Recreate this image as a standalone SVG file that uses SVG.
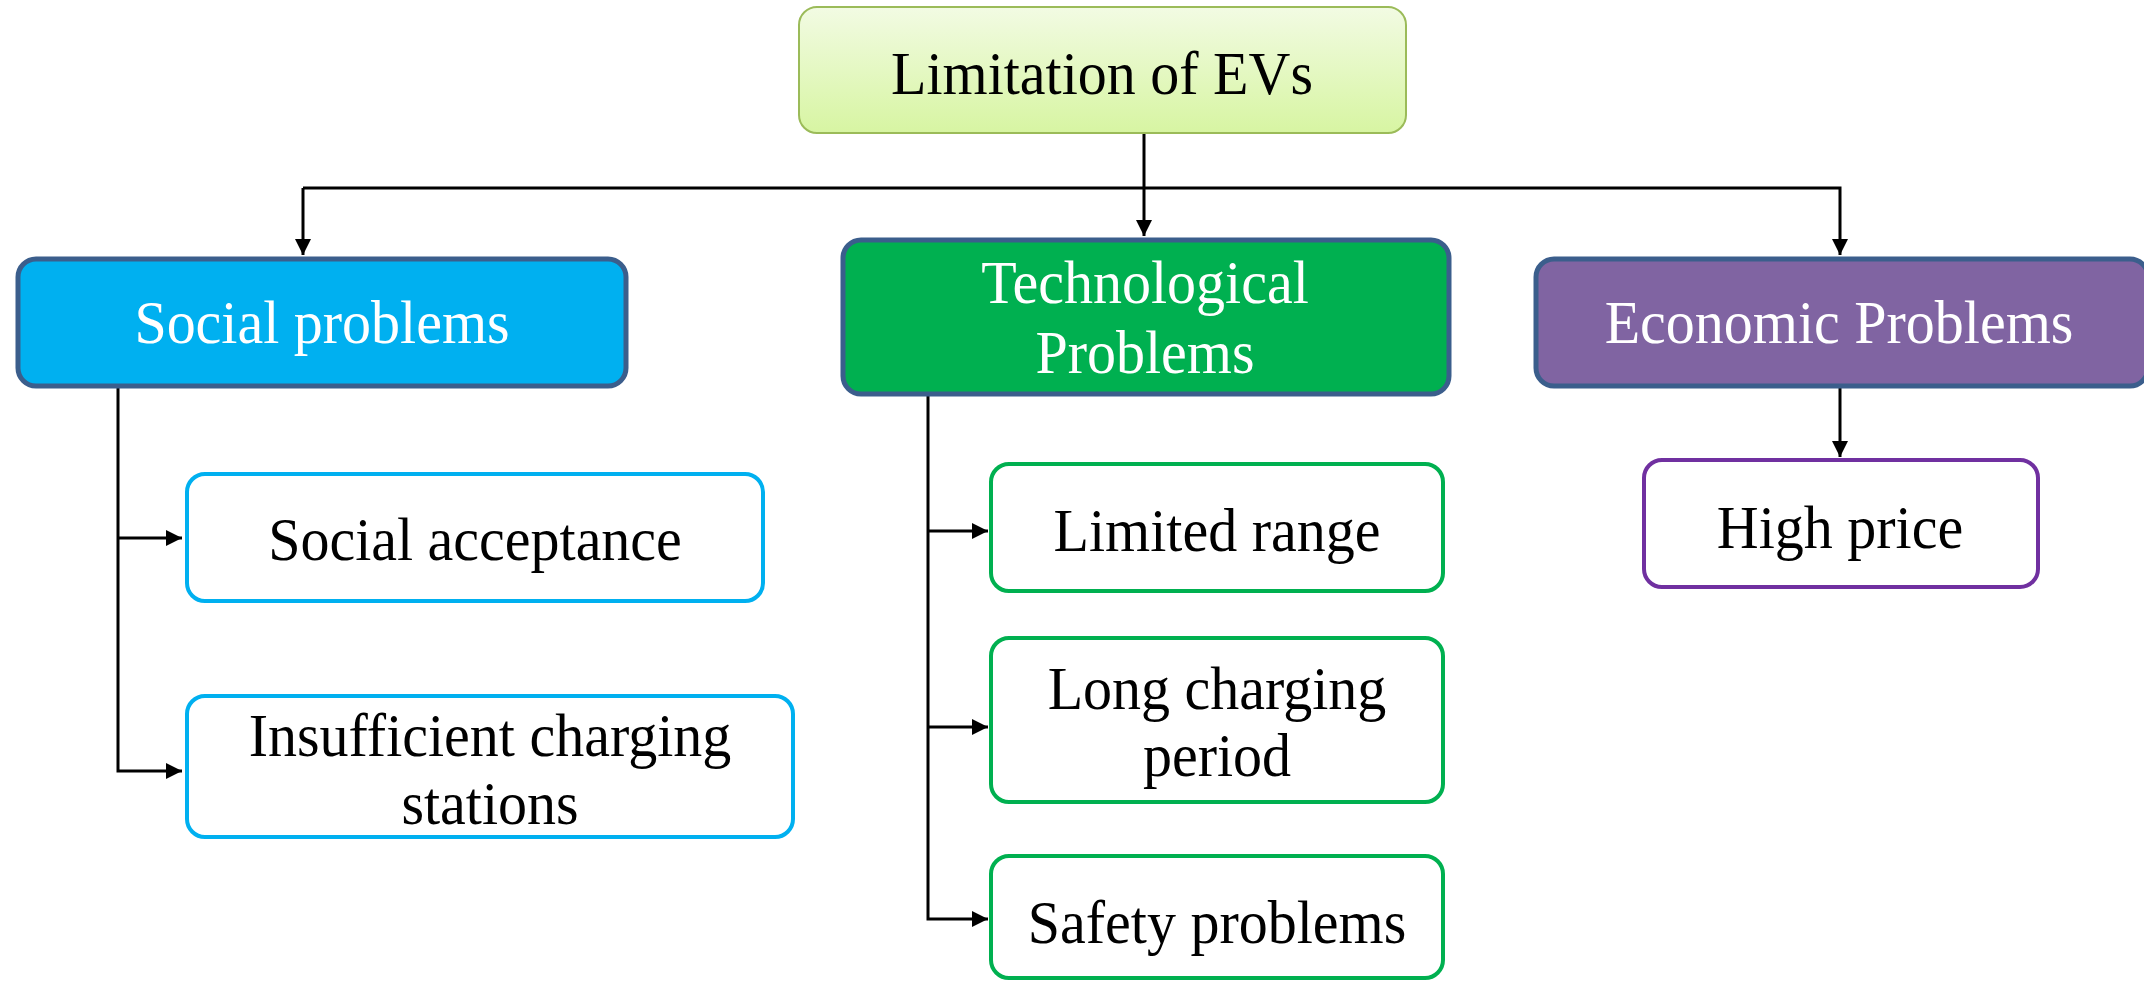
<svg xmlns="http://www.w3.org/2000/svg" width="2144" height="981" viewBox="0 0 2144 981">
<defs>
<linearGradient id="gTop" x1="0" y1="0" x2="0" y2="1">
<stop offset="0" stop-color="#F2FBE3"/>
<stop offset="1" stop-color="#D7F5A2"/>
</linearGradient>
<marker id="ah" viewBox="0 0 10 10" refX="10" refY="5" markerWidth="5.5" markerHeight="5.5" orient="auto" markerUnits="strokeWidth">
<path d="M0,0 L10,5 L0,10 z" fill="#000"/>
</marker>
<style>
text{font-family:"Liberation Serif","Times New Roman",serif;font-size:58px;text-anchor:middle;transform-box:fill-box;transform-origin:center;transform:scaleY(1.06)}
.w{fill:#fff}
.k{fill:#000}
.cat{stroke:#3B5E8C;stroke-width:5}
.conn{stroke:#000;stroke-width:3;fill:none}
</style>
</defs>
<rect width="2144" height="981" fill="#fff"/>
<g id="connectors">
<path class="conn" d="M1144,133 V236" marker-end="url(#ah)"/>
<path class="conn" d="M303,188 H1840 V255" marker-end="url(#ah)"/>
<path class="conn" d="M303,188 V255" marker-end="url(#ah)"/>
<path class="conn" d="M1840,386 V457" marker-end="url(#ah)"/>
<path class="conn" d="M118,386 V771 H182" marker-end="url(#ah)"/>
<path class="conn" d="M118,538 H182" marker-end="url(#ah)"/>
<path class="conn" d="M928,394 V919 H988" marker-end="url(#ah)"/>
<path class="conn" d="M928,531 H988" marker-end="url(#ah)"/>
<path class="conn" d="M928,727 H988" marker-end="url(#ah)"/>
</g>
<g id="root">
<rect x="799" y="7" width="607" height="126" rx="18" fill="url(#gTop)" stroke="#9BBB59" stroke-width="2"/>
<text class="k" x="1102" y="93">Limitation of EVs</text>
</g>
<g id="social">
<rect class="cat" x="18" y="259" width="608" height="127" rx="18" fill="#00B0F0"/>
<text class="w" x="322" y="342">Social problems</text>
</g>
<g id="tech">
<rect class="cat" x="843" y="240" width="606" height="154" rx="18" fill="#00B050"/>
<text class="w" x="1145" y="302">Technological</text>
<text class="w" x="1145" y="372">Problems</text>
</g>
<g id="econ">
<rect class="cat" x="1536" y="259" width="612" height="127" rx="18" fill="#8064A2"/>
<text class="w" x="1839" y="342">Economic Problems</text>
</g>
<g id="social-acceptance">
<rect x="187" y="474" width="576" height="127" rx="18" fill="#fff" stroke="#00B0F0" stroke-width="4"/>
<text class="k" x="475" y="559">Social acceptance</text>
</g>
<g id="insufficient">
<rect x="187" y="696" width="606" height="141" rx="18" fill="#fff" stroke="#00B0F0" stroke-width="4"/>
<text class="k" x="490" y="755">Insufficient charging</text>
<text class="k" x="490" y="823">stations</text>
</g>
<g id="limited-range">
<rect x="991" y="464" width="452" height="127" rx="18" fill="#fff" stroke="#00B050" stroke-width="4"/>
<text class="k" x="1217" y="550">Limited range</text>
</g>
<g id="long-charging">
<rect x="991" y="638" width="452" height="164" rx="18" fill="#fff" stroke="#00B050" stroke-width="4"/>
<text class="k" x="1217" y="708">Long charging</text>
<text class="k" x="1217" y="775">period</text>
</g>
<g id="safety">
<rect x="991" y="856" width="452" height="122" rx="18" fill="#fff" stroke="#00B050" stroke-width="4"/>
<text class="k" x="1217" y="942">Safety problems</text>
</g>
<g id="high-price">
<rect x="1644" y="460" width="394" height="127" rx="18" fill="#fff" stroke="#7030A0" stroke-width="4"/>
<text class="k" x="1840" y="547">High price</text>
</g>
</svg>
